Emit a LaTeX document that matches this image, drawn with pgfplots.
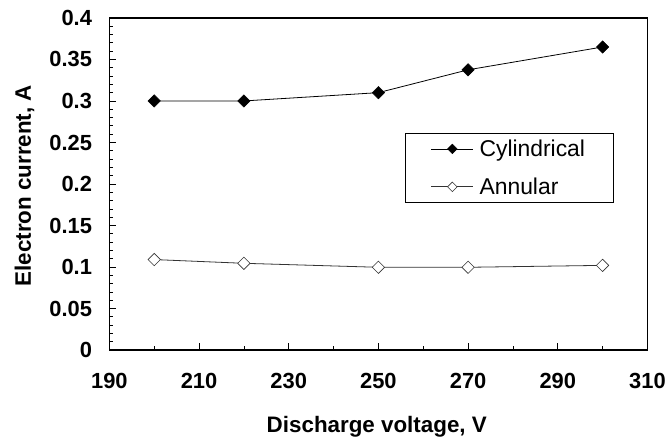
\documentclass[border=0pt]{standalone}
\usepackage{fontspec}
\setmainfont{Liberation Sans}
\usepackage{pgfplots}
\pgfplotsset{compat=1.18}
\begin{document}
\begin{tikzpicture}
\begin{axis}[
  scale only axis,
  width=541pt, height=334pt,
  xmin=190, xmax=310, ymin=0, ymax=0.4,
  xtick={190,210,...,310},
  ytick={0,0.05,...,0.4},
  minor x tick num=1,
  minor y tick num=4,
  tick pos=left,
  tick align=inside,
  major tick length=7pt,
  minor tick length=4pt,
  axis line style={line width=1.2pt},
  every tick/.style={black, line width=0.8pt},
  /pgf/number format/assume math mode=true,
  yticklabel style={/pgf/number format/fixed, /pgf/number format/precision=2, xshift=-14pt},
  xticklabel style={/pgf/number format/set thousands separator={}, yshift=-20pt},
  ticklabel style={font=\fontsize{22}{24}\selectfont\bfseries},
  xlabel={Discharge voltage, V},
  ylabel={Electron current, A},
  label style={font=\fontsize{22.5}{25}\selectfont\bfseries},
  xlabel style={at={(axis description cs:0.497,-0.2485)}, anchor=base},
  ylabel style={at={(axis description cs:-0.146,0.495)}, anchor=base, rotate=0},
  legend style={at={(0.549,0.655)}, anchor=north west, draw=black, line width=0.8pt,
    font=\fontsize{23}{26}\selectfont, row sep=16pt, inner xsep=26pt, inner ysep=5pt},
  legend cell align=left,
  legend image code/.code={\draw[mark repeat=2,mark phase=2,#1] plot coordinates {(0pt,0pt) (21pt,0pt) (42pt,0pt)};\path (46pt,0pt);},
  legend image post style={line width=0.8pt, mark size=3.4pt},
]
\addplot[black, line width=0.8pt, mark=square*, mark size=4.4pt, mark options={rotate=45, fill=black, line width=0.5pt}]
  coordinates {(200,0.300) (220,0.300) (250,0.310) (270,0.3375) (300,0.365)};
\addlegendentry{Cylindrical}
\addplot[black!80, line width=0.8pt, mark=square*, mark size=4.4pt, mark options={rotate=45, fill=white, line width=0.6pt}]
  coordinates {(200,0.109) (220,0.1045) (250,0.0997) (270,0.0997) (300,0.102)};
\addlegendentry{Annular}
\end{axis}
\useasboundingbox (-110pt,-91pt) rectangle (559pt,352pt);
\end{tikzpicture}
\end{document}
